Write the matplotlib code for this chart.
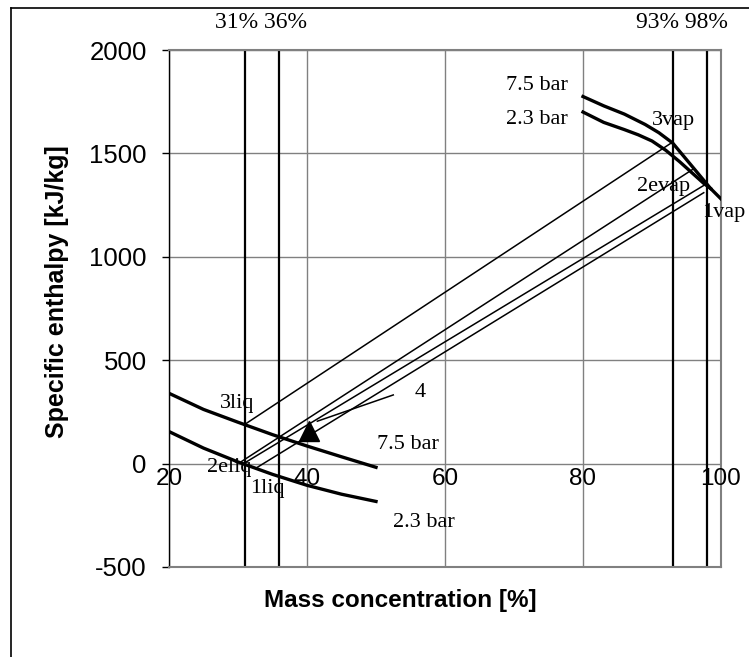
import matplotlib
matplotlib.use("Agg")
import matplotlib.pyplot as plt
from matplotlib.lines import Line2D

# Axis ranges and ticks
x_ticks = [20, 40, 60, 80, 100]
y_ticks = [-500, 0, 500, 1000, 1500, 2000]

# Saturated liquid curves (mass concentration %, enthalpy kJ/kg)
liq_x = [20, 25, 30, 35, 40, 45, 50]
liq_75 = [340, 262, 200, 140, 85, 33, -18]
liq_23 = [155, 75, 8, -52, -105, -148, -183]

# Saturated vapour curves
vap_75_x = [80, 83, 86, 89, 91, 93, 95, 97, 98.5, 100]
vap_75_y = [1775, 1730, 1690, 1640, 1600, 1550, 1470, 1390, 1330, 1280]
vap_23_x = [80, 83, 86, 88, 90, 92, 94, 96, 97.5, 98.5]
vap_23_y = [1700, 1650, 1615, 1590, 1560, 1515, 1460, 1400, 1355, 1330]

# Concentration markers
conc_lines = [31, 36, 93, 98]
conc_left = "31% 36%"
conc_right = "93% 98%"

# Tie lines: (x_start, h_start, x_end, h_end)
tie_3 = (31, 190, 93, 1555)
tie_2e = (30.5, 10, 96, 1425)
tie_2 = (30.8, 0, 97.5, 1345)
tie_1 = (32.7, -20, 97.5, 1310)

# Mixing point 4 and its leader
point4 = (40.3, 158)
leader4 = (52.5, 332, 41.5, 205)

serif = "Liberation Serif"
sans = "Liberation Sans"

fig = plt.figure(figsize=(7.49, 6.57), dpi=100)
ax = fig.add_axes([169 / 749, 1 - 567 / 657, 552 / 749, 517 / 657])

ax.set_xlim(20, 100)
ax.set_ylim(-500, 2000)

grid_c = "#808080"
for xv in x_ticks:
    ax.axvline(xv, color=grid_c, lw=1.0, zorder=1)
for yv in y_ticks:
    ax.axhline(yv, color=grid_c, lw=1.0, zorder=1)
for xv in conc_lines:
    ax.axvline(xv, color="black", lw=1.6, zorder=2)

for s in ["top", "right", "bottom"]:
    ax.spines[s].set_color(grid_c)
    ax.spines[s].set_linewidth(1.5)
ax.spines["left"].set_color("black")
ax.spines["left"].set_linewidth(1.0)

ax.set_xticks([])
ax.set_yticks(y_ticks)
ax.set_yticklabels([str(v) for v in y_ticks], fontfamily=sans, fontsize=18.5)
ax.tick_params(axis="y", direction="out", length=5, width=1, pad=11)

# x tick labels sit on the h = 0 line
for xv in x_ticks:
    ax.annotate(str(xv), (xv, 0), xytext=(0, -3), textcoords="offset points",
                ha="center", va="top", fontfamily=sans, fontsize=17.5, zorder=6)

fig.text(57 / 749, 1 - 292 / 657, "Specific enthalpy [kJ/kg]", fontfamily=sans,
         fontsize=18, fontweight="bold", rotation=90, ha="center", va="center")
fig.text(400 / 749, 1 - 601 / 657, "Mass concentration [%]", fontfamily=sans,
         fontsize=17.5, fontweight="bold", ha="center", va="center")

# Curves
ax.plot(liq_x, liq_75, color="black", lw=2.4, zorder=4)
ax.plot(liq_x, liq_23, color="black", lw=2.4, zorder=4)
ax.plot(vap_75_x, vap_75_y, color="black", lw=2.4, zorder=4)
ax.plot(vap_23_x, vap_23_y, color="black", lw=2.4, zorder=4)

for t in (tie_3, tie_2e, tie_2, tie_1):
    ax.plot([t[0], t[2]], [t[1], t[3]], color="black", lw=1.1, zorder=3)

ax.plot([leader4[0], leader4[2]], [leader4[1], leader4[3]], color="black", lw=1.1, zorder=3)
ax.plot([point4[0]], [point4[1]], marker="^", color="black", markersize=14, zorder=5)

# Annotations
fs = 16
def lab(x, y, s, ha="left", va="center"):
    ax.text(x, y, s, fontfamily=serif, fontsize=fs, ha=ha, va=va, zorder=6)

lab(77.8, 1830, "7.5 bar", ha="right")
lab(77.8, 1665, "2.3 bar", ha="right")
lab(90.0, 1660, "3vap")
lab(87.8, 1340, "2evap")
lab(97.2, 1215, "1vap")
lab(27.4, 290, "3liq")
lab(25.5, -20, "2eliq")
lab(31.7, -120, "1liq")
lab(50.1, 92, "7.5 bar")
lab(52.5, -285, "2.3 bar")
lab(55.6, 344, "4")

fig.text(261 / 749, 1 - 23 / 657, conc_left, fontfamily=serif, fontsize=17,
         ha="center", va="center")
fig.text(682 / 749, 1 - 23 / 657, conc_right, fontfamily=serif, fontsize=17,
         ha="center", va="center")

# Outer frame (top and left edges)
fig.add_artist(Line2D([11 / 749, 1], [1 - 8 / 657, 1 - 8 / 657], transform=fig.transFigure,
                      color="black", lw=1.2))
fig.add_artist(Line2D([11 / 749, 11 / 749], [0, 1 - 8 / 657], transform=fig.transFigure,
                      color="black", lw=1.2))

fig.savefig("out.png", dpi=100)
